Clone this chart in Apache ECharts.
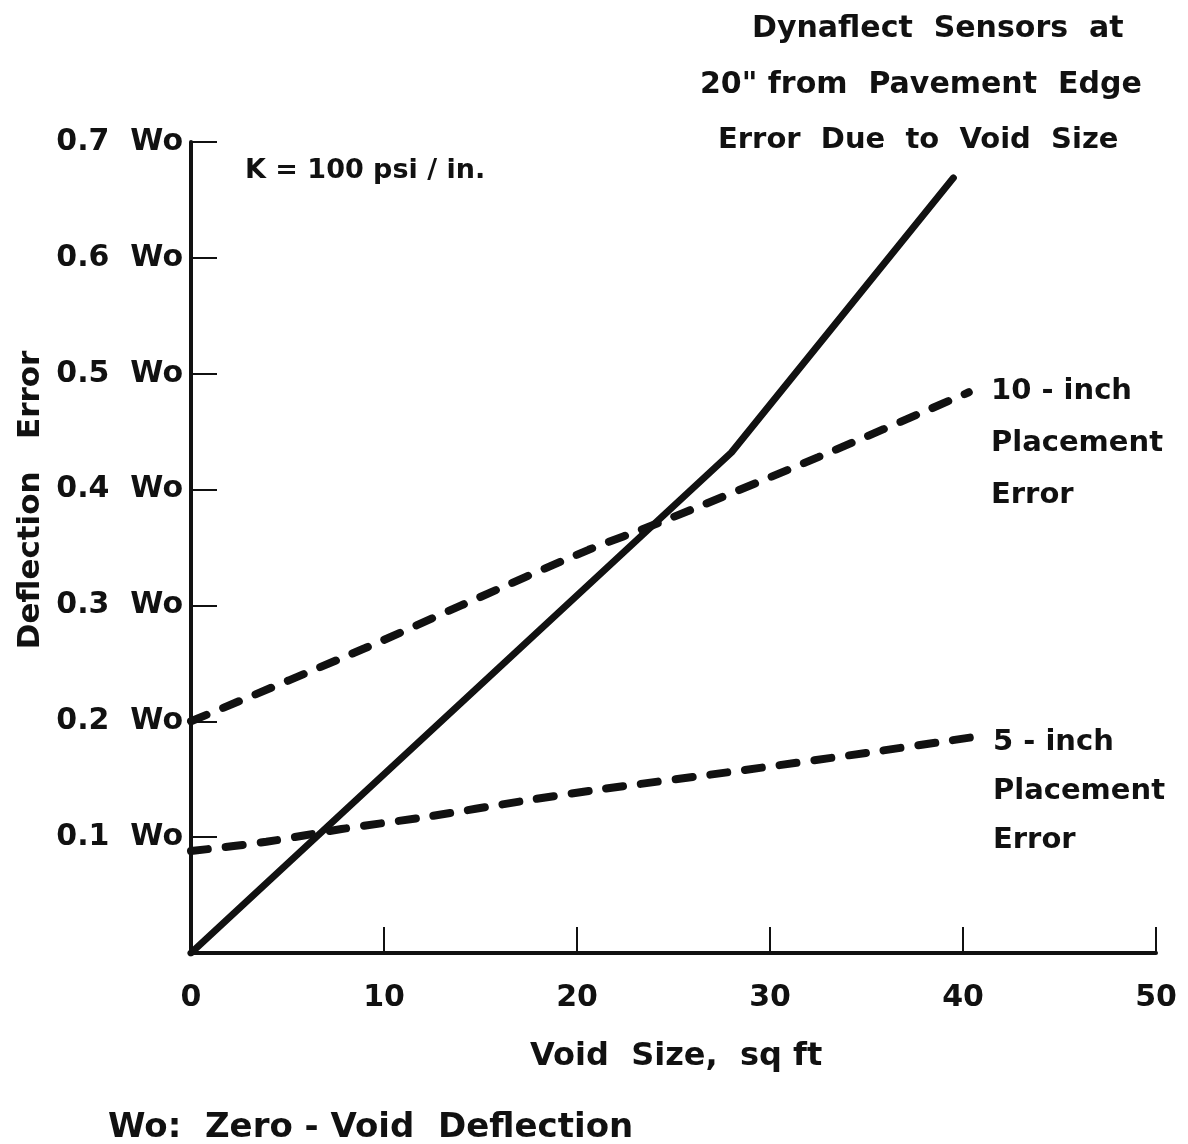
<!DOCTYPE html>
<html>
<head>
<meta charset="utf-8">
<script src="https://cdn.jsdelivr.net/npm/echarts@6/dist/echarts.min.js"></script>
<style>
  html, body { margin: 0; padding: 0; background: #fff; }
  #chart { width: 1188px; height: 1144px; }
</style>
</head>
<body>
<div id="chart"></div>
<script>
// Void size (sq ft) and deflection error (fraction of Wo) for each curve
const solidVoid = [0, 28, 39.5];
const solidErr = [0, 0.432, 0.669];

const tenInchVoid = [0, 9, 14, 20.6, 24.2, 32.5, 40.3];
const tenInchErr = [0.2, 0.263, 0.300, 0.348, 0.371, 0.428, 0.484];

const fiveInchVoid = [0, 3.9, 7.8, 12, 17.5, 21.1, 28.7, 35.1, 40.4];
const fiveInchErr = [0.088, 0.096, 0.107, 0.117, 0.132, 0.141, 0.158, 0.173, 0.186];

const xTicks = [0, 10, 20, 30, 40, 50];
const yTicks = [0, 0.1, 0.2, 0.3, 0.4, 0.5, 0.6, 0.7];

const FONT = '"DejaVu Sans", sans-serif';
const INK = '#111';
const txt = { fontFamily: FONT, fontWeight: 'bold', fontSize: 29, fill: INK };

function pairs(xs, ys) { return xs.map((x, i) => [x, ys[i]]); }

const chart = echarts.init(document.getElementById('chart'));
chart.setOption({
  backgroundColor: '#fff',
  animation: false,
  grid: { left: 191, right: 32, top: 142, bottom: 191, outerBoundsMode: 'none', containLabel: false },
  xAxis: {
    type: 'value', min: xTicks[0], max: xTicks[xTicks.length - 1], interval: 10,
    axisLine: { lineStyle: { color: INK, width: 4 } },
    axisTick: { inside: true, length: 26, lineStyle: { color: INK, width: 2 } },
    splitLine: { show: false },
    axisLabel: { margin: 30, color: INK, fontFamily: FONT, fontWeight: 'bold', fontSize: 30 }
  },
  yAxis: {
    type: 'value', min: yTicks[0], max: yTicks[yTicks.length - 1], interval: 0.1,
    axisLine: { lineStyle: { color: INK, width: 4 } },
    axisTick: { inside: true, length: 26, lineStyle: { color: INK, width: 2 } },
    splitLine: { show: false },
    axisLabel: {
      margin: 8, color: INK, fontFamily: FONT, fontWeight: 'bold', fontSize: 30,
      formatter: v => (Math.abs(v) < 1e-9 ? '' : v.toFixed(1) + '  Wo')
    }
  },
  series: [
    {
      type: 'line', data: pairs(solidVoid, solidErr), symbol: 'none',
      lineStyle: { color: INK, width: 7, cap: 'round', join: 'round' }
    },
    {
      type: 'line', data: pairs(tenInchVoid, tenInchErr), symbol: 'none', smooth: 0.3,
      lineStyle: { color: INK, width: 8, type: [17, 18], cap: 'round' }
    },
    {
      type: 'line', data: pairs(fiveInchVoid, fiveInchErr), symbol: 'none', smooth: 0.3,
      lineStyle: { color: INK, width: 8, type: [17, 18], cap: 'round' }
    }
  ],
  graphic: [
    { type: 'text', left: 752, top: 14, style: Object.assign({ text: 'Dynaflect  Sensors  at' }, txt, { fontSize: 30 }) },
    { type: 'text', left: 700, top: 70, style: Object.assign({ text: '20" from  Pavement  Edge' }, txt, { fontSize: 30 }) },
    { type: 'text', left: 718, top: 126, style: Object.assign({ text: 'Error  Due  to  Void  Size' }, txt) },
    { type: 'text', left: 245, top: 157, style: Object.assign({ text: 'K = 100 psi / in.' }, txt, { fontSize: 27 }) },
    { type: 'text', left: 991, top: 365, style: Object.assign({ text: '10 - inch\nPlacement\nError', lineHeight: 52 }, txt) },
    { type: 'text', left: 993, top: 718, style: Object.assign({ text: '5 - inch\nPlacement\nError', lineHeight: 49 }, txt) },
    {
      type: 'text', x: 15, y: 500, rotation: Math.PI / 2,
      style: Object.assign({ text: 'Deflection   Error' }, txt, { align: 'center', verticalAlign: 'top', fontSize: 31 })
    },
    { type: 'text', left: 530, top: 1041, style: Object.assign({ text: 'Void  Size,  sq ft' }, txt, { fontSize: 32 }) },
    { type: 'text', left: 108, top: 1111, style: Object.assign({ text: 'Wo:  Zero - Void  Deflection' }, txt, { fontSize: 34 }) }
  ]
});
</script>
</body>
</html>
